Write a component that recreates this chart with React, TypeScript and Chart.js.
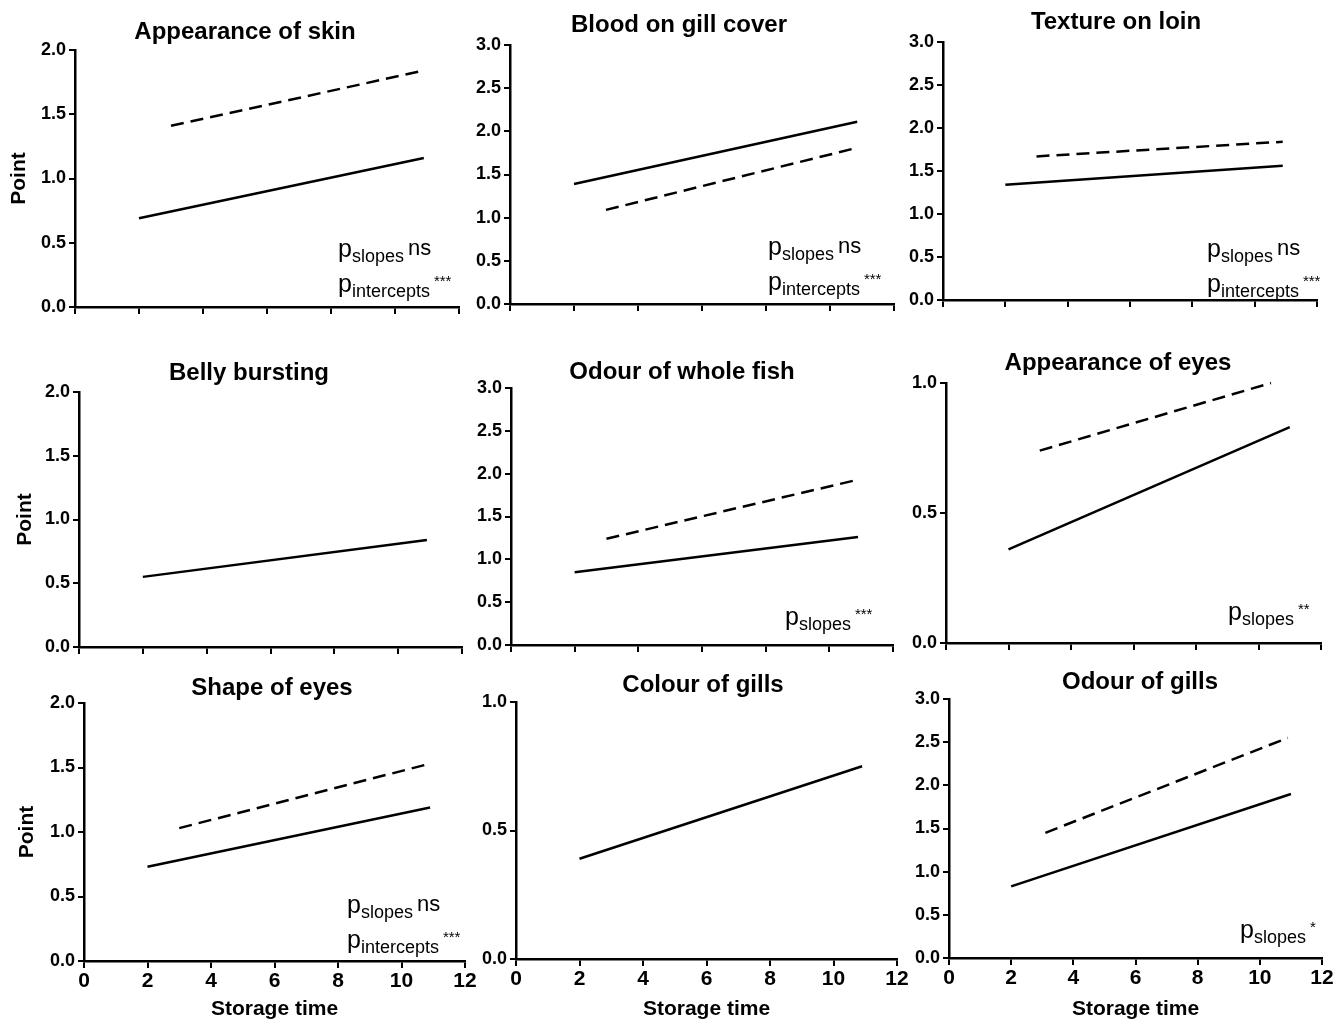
import React, { useEffect, useRef } from "react";
import { Chart, registerables } from "chart.js";

Chart.register(...registerables);

const FONT = "'Liberation Sans', Arial, Helvetica, sans-serif";

// ---------- data ----------
const titles = [
  "Appearance of skin",
  "Blood on gill cover",
  "Texture on loin",
  "Belly bursting",
  "Odour of whole fish",
  "Appearance of eyes",
  "Shape of eyes",
  "Colour of gills",
  "Odour of gills",
];
const yMax = [2, 3, 3, 2, 3, 1, 2, 1, 3];
const xTicksMax = 12;
const xTickStep = 2;
const yTickStep = 0.5;

const solidStartX = [2, 2, 2, 2, 2, 2, 2, 2, 2];
const solidEndX = [10.9, 10.85, 10.9, 10.9, 10.9, 11, 10.9, 10.9, 11];
const solidStartY = [0.69, 1.39, 1.34, 0.55, 0.85, 0.36, 0.73, 0.39, 0.83];
const solidEndY = [1.16, 2.11, 1.56, 0.84, 1.26, 0.83, 1.19, 0.75, 1.9];

const dashedStartX = [3, 3, 3, null, 3, 3, 3, null, 3.1];
const dashedEndX = [10.9, 10.85, 10.9, null, 10.9, 10.4, 10.9, null, 10.9];
const dashedStartY = [1.41, 1.09, 1.67, null, 1.24, 0.74, 1.03, null, 1.45];
const dashedEndY = [1.84, 1.81, 1.84, null, 1.93, 1.0, 1.53, null, 2.55];

const slopesSig = ["ns", "ns", "ns", null, "***", "**", "ns", null, "*"];
const interceptsSig = ["***", "***", "***", null, null, null, "***", null, null];

const xAxisTitle = "Storage time";
const yAxisTitle = "Point";

// ---------- layout (page pixels) ----------
const areaLeft = [75, 510, 943, 79, 511, 946, 84, 516, 949];
const areaRight = [459, 894, 1317, 462, 893, 1321, 465, 897, 1322];
const areaTop = [50, 45, 42, 392, 388, 383, 703, 702, 699];
const areaBottom = [307, 304, 300, 647, 645, 643, 961, 959, 958];
const titleX = [245, 679, 1116, 249, 682, 1118, 272, 703, 1140];
const titleY = [32, 25, 22, 373, 372, 363, 688, 685, 682];
const annoX = [338, 768, 1207, null, 785, 1228, 347, null, 1240];
const annoBaseline = [257, 255, 257, null, 625, 620, 913, null, 938];
const yTitleCenter = [19, 19, 19, 25, 25, 25, 27, 27, 27];

const LEFT_PAD = 75;
const TOP_PAD = 50;
const RIGHT_PAD = 18;
const PAGE_H = 1022;

function Panel({ i }: { i: number }) {
  const ref = useRef<HTMLCanvasElement | null>(null);
  const bottomRow = i >= 6;
  const leftCol = i % 3 === 0;
  const cLeft = areaLeft[i] - LEFT_PAD;
  const cTop = areaTop[i] - TOP_PAD;
  const cW = areaRight[i] + RIGHT_PAD - cLeft;
  const cBottom = bottomRow ? PAGE_H : areaBottom[i] + 22;
  const cH = cBottom - cTop;
  const xAxisH = cBottom - areaBottom[i];

  useEffect(() => {
    if (!ref.current) return;
    const datasets: any[] = [
      {
        data: [
          { x: solidStartX[i], y: solidStartY[i] },
          { x: solidEndX[i], y: solidEndY[i] },
        ],
        borderColor: "#000",
        borderWidth: 2.5,
        pointRadius: 0,
        fill: false,
        clip: false,
      },
    ];
    if (dashedStartX[i] !== null) {
      datasets.push({
        data: [
          { x: dashedStartX[i], y: dashedStartY[i] },
          { x: dashedEndX[i], y: dashedEndY[i] },
        ],
        borderColor: "#000",
        borderWidth: 2.5,
        borderDash: [13, 7],
        pointRadius: 0,
        fill: false,
        clip: false,
      });
    }

    const textPlugin = {
      id: "panelText",
      afterDraw(chart: any) {
        const ctx = chart.ctx;
        ctx.save();
        ctx.fillStyle = "#000";
        // title
        ctx.font = `bold 24px ${FONT}`;
        ctx.textAlign = "center";
        ctx.textBaseline = "middle";
        ctx.fillText(titles[i], titleX[i] - cLeft, titleY[i] - cTop);
        // annotation
        if (annoX[i] !== null) {
          ctx.textAlign = "left";
          ctx.textBaseline = "alphabetic";
          const drawLine = (sub: string, sig: string, base: number, starSig: boolean) => {
            let x = (annoX[i] as number) - cLeft;
            const y = base - cTop;
            ctx.font = `25px ${FONT}`;
            ctx.fillText("p", x, y);
            x += ctx.measureText("p").width;
            ctx.font = `18px ${FONT}`;
            ctx.fillText(sub, x, y + 5);
            x += ctx.measureText(sub).width + 4;
            if (starSig) {
              ctx.font = `15px ${FONT}`;
              ctx.fillText(sig, x, y - 6);
            } else {
              ctx.font = `22px ${FONT}`;
              ctx.fillText(sig, x, y - 2);
            }
          };
          const s = slopesSig[i] as string;
          drawLine("slopes", s, annoBaseline[i] as number, s !== "ns");
          if (interceptsSig[i]) {
            drawLine("intercepts", interceptsSig[i] as string, (annoBaseline[i] as number) + 35, true);
          }
        }
        ctx.restore();
      },
    };

    const chart = new Chart(ref.current, {
      type: "line",
      data: { datasets },
      options: {
        animation: false,
        responsive: false,
        devicePixelRatio: 1,
        layout: { padding: { left: 0, top: TOP_PAD, right: RIGHT_PAD, bottom: 0 } },
        plugins: {
          legend: { display: false },
          tooltip: { enabled: false },
          title: { display: false },
        },
        scales: {
          x: {
            type: "linear",
            min: 0,
            max: xTicksMax,
            ticks: {
              stepSize: xTickStep,
              display: bottomRow,
              color: "#000",
              font: { family: FONT, size: 21, weight: "bold" },
              padding: 1,
              maxRotation: 0,
              autoSkip: false,
            },
            grid: {
              drawOnChartArea: false,
              color: "#000",
              lineWidth: 2,
              tickLength: 7,
            },
            border: { color: "#000", width: 2.5 },
            title: {
              display: bottomRow,
              text: xAxisTitle,
              color: "#000",
              font: { family: FONT, size: 21, weight: "bold", lineHeight: 1.2 },
              padding: 0,
            },
            afterFit: (s: any) => {
              s.height = xAxisH;
            },
          },
          y: {
            type: "linear",
            min: 0,
            max: yMax[i],
            ticks: {
              stepSize: yTickStep,
              color: "#000",
              font: { family: FONT, size: 18, weight: "bold" },
              padding: 3,
              callback: (v: any) => Number(v).toFixed(1),
            },
            grid: {
              drawOnChartArea: false,
              color: "#000",
              lineWidth: 2,
              tickLength: 6,
            },
            border: { color: "#000", width: 2.5 },
            title: {
              display: leftCol,
              text: yAxisTitle,
              color: "#000",
              font: { family: FONT, size: 21, weight: "bold", lineHeight: 1.2 },
              padding: { top: yTitleCenter[i] - cLeft - 12.6, bottom: 0 },
            },
            afterFit: (s: any) => {
              s.width = LEFT_PAD;
            },
          },
        },
      } as any,
      plugins: [textPlugin],
    });
    return () => chart.destroy();
  }, [i]);

  return (
    <canvas
      ref={ref}
      width={cW}
      height={cH}
      style={{ position: "absolute", left: cLeft, top: cTop, width: cW, height: cH }}
    />
  );
}

export default function App() {
  return (
    <div
      style={{
        position: "absolute",
        left: 0,
        top: 0,
        width: 1335,
        height: 1022,
        background: "#fff",
        overflow: "hidden",
      }}
    >
      {titles.map((_, i) => (
        <Panel key={i} i={i} />
      ))}
    </div>
  );
}
